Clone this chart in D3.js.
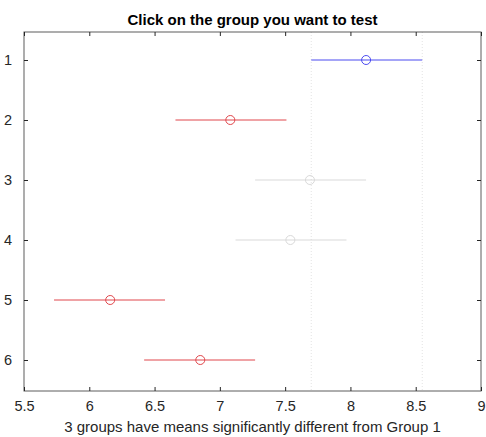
<!DOCTYPE html>
<html>
<head>
<meta charset="utf-8">
<script src="https://cdn.jsdelivr.net/npm/d3@7"></script>
<style>
  body { margin: 0; background: #fff; }
  svg { font-family: "Liberation Sans", Arial, sans-serif; }
</style>
</head>
<body>
<div id="chart"></div>
<script>
// groups and their estimated means with comparison intervals
var groups = [1, 2, 3, 4, 5, 6];
var means = [8.12, 7.08, 7.69, 7.54, 6.16, 6.85];
var lower = [7.70, 6.66, 7.27, 7.12, 5.73, 6.42];
var upper = [8.55, 7.51, 8.12, 7.97, 6.58, 7.27];
// 0 = selected group, 1 = significantly different, 2 = not different
var groupStatus = [0, 1, 2, 2, 1, 1];
var xTicks = [5.5, 6, 6.5, 7, 7.5, 8, 8.5, 9];
var title = "Click on the group you want to test";
var xLabel = "3 groups have means significantly different from Group 1";

function main(){
  var margin = {top: 32, right: 5, bottom: 46, left: 24},
      width = 486 - margin.left - margin.right,
      height = 437 - margin.top - margin.bottom;

  var svg = d3.select("#chart")
    .append("svg")
    .attr("width", 486)
    .attr("height", 437)
    .append("g")
    .attr("transform", "translate(" + margin.left + "," + margin.top + ")");

  var x = d3.scaleLinear().domain([5.5, 9]).range([0, width]);
  var y = d3.scaleLinear().domain([0.5, 6.5]).range([-2, height - 1]);

  var colors = ["#4a4af0", "#e0474c", "#d9d9d9"];

  // dotted reference lines at the interval of group 1
  svg.append("g")
    .selectAll("line")
    .data([lower[0], upper[0]])
    .enter()
    .append("line")
      .attr("x1", function(d){ return x(d); })
      .attr("x2", function(d){ return x(d); })
      .attr("y1", 0)
      .attr("y2", height)
      .attr("stroke", "#e3e3e3")
      .attr("stroke-dasharray", "1,2");

  // axes box
  svg.append("rect")
    .attr("x", 0).attr("y", 0)
    .attr("width", width).attr("height", height)
    .attr("fill", "none")
    .attr("stroke", "#262626")
    .attr("stroke-opacity", 0.75);

  var axX = svg.append("g")
    .attr("transform", "translate(0," + height + ")")
    .call(d3.axisBottom(x).tickValues(xTicks).tickFormat(d3.format("")).tickSizeInner(-4).tickSizeOuter(0).tickPadding(10));
  var axXtop = svg.append("g")
    .call(d3.axisTop(x).tickValues(xTicks).tickFormat("").tickSizeInner(-4).tickSizeOuter(0));
  var axY = svg.append("g")
    .call(d3.axisLeft(y).tickValues(groups).tickFormat(d3.format("d")).tickSizeInner(-4).tickSizeOuter(0).tickPadding(12));
  var axYr = svg.append("g")
    .attr("transform", "translate(" + width + ",0)")
    .call(d3.axisRight(y).tickValues(groups).tickFormat("").tickSizeInner(-4).tickSizeOuter(0));

  [axX, axXtop, axY, axYr].forEach(function(a){
    a.select(".domain").remove();
    a.selectAll("line").attr("stroke", "#262626");
    a.selectAll("text").attr("font-size", "14.5px").attr("fill", "#262626");
  });

  // intervals
  svg.append("g")
    .selectAll("line")
    .data(groups)
    .enter()
    .append("line")
      .attr("x1", function(d, i){ return x(lower[i]); })
      .attr("x2", function(d, i){ return x(upper[i]); })
      .attr("y1", function(d){ return y(d); })
      .attr("y2", function(d){ return y(d); })
      .attr("stroke", function(d, i){ return colors[groupStatus[i]]; })
      .attr("stroke-width", 1);

  // means
  svg.append("g")
    .selectAll("circle")
    .data(groups)
    .enter()
    .append("circle")
      .attr("cx", function(d, i){ return x(means[i]); })
      .attr("cy", function(d){ return y(d); })
      .attr("r", 4.5)
      .attr("fill", "none")
      .attr("stroke", function(d, i){ return colors[groupStatus[i]]; });

  // title
  svg.append("text")
    .attr("x", width / 2)
    .attr("y", -7)
    .attr("text-anchor", "middle")
    .attr("font-size", "15px")
    .attr("font-weight", "bold")
    .attr("fill", "#000")
    .text(title);

  // x label
  svg.append("text")
    .attr("x", width / 2)
    .attr("y", height + 41)
    .attr("text-anchor", "middle")
    .attr("font-size", "15px")
    .attr("fill", "#262626")
    .text(xLabel);
}
main();
</script>
</body>
</html>
